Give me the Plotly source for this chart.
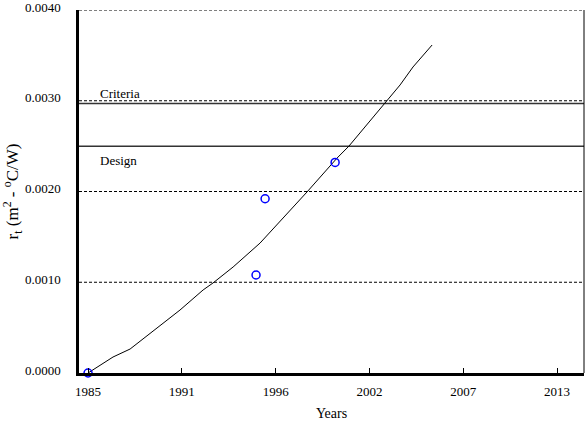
import plotly.graph_objects as go

# Fitted curve
curve_years = [1985.0, 1986.49, 1987.51, 1989.30, 1990.49, 1991.87, 1992.46, 1993.66,
               1995.27, 1998.07, 1999.87, 2000.58, 2002.67, 2003.63, 2004.40, 2005.54]
curve_rt = [0.0, 0.000176, 0.000264, 0.000518, 0.000694, 0.000915, 0.000992, 0.001168,
            0.001432, 0.001994, 0.002369, 0.002501, 0.002956, 0.003174, 0.003372, 0.003614]

# Measured points
meas_years = [1985.0, 1995.03, 1995.57, 1999.75]
meas_rt = [0.0, 0.00108, 0.00192, 0.00232]

# Reference levels
grid_levels = [0.001, 0.002, 0.003, 0.004]
design_level = 0.0025
criteria_level = 0.00297

# Axis ticks
x_tickvals = [1985.0, 1990.6, 1996.2, 2001.8, 2007.4, 2013.0]
x_ticktext = ["1985", "1991", "1996", "2002", "2007", "2013"]
y_tickvals = [0.0, 0.001, 0.002, 0.003, 0.004]
y_ticktext = ["0.0000", "0.0010", "0.0020", "0.0030", "0.0040"]

x_range = [1984.46, 2014.61]
y_range = [0.0, 0.004]

FONT = "Liberation Serif, Times New Roman, serif"

fig = go.Figure()

fig.add_trace(go.Scatter(x=curve_years, y=curve_rt, mode="lines",
                         line=dict(color="black", width=1), showlegend=False))
fig.add_trace(go.Scatter(x=meas_years, y=meas_rt, mode="markers",
                         marker=dict(symbol="circle-open", size=8, color="#0000ff",
                                     line=dict(width=1.5, color="#0000ff")),
                         showlegend=False, cliponaxis=False))

shapes = []
for lv in grid_levels:
    shapes.append(dict(type="line", xref="paper", x0=0, x1=1, yref="y", y0=lv, y1=lv,
                       line=dict(color="black", width=1, dash="3px,2px"), layer="below"))
for lv in [design_level, criteria_level]:
    shapes.append(dict(type="line", xref="paper", x0=0, x1=1, yref="y", y0=lv, y1=lv,
                       line=dict(color="#333333", width=1.5), layer="below"))
shapes.append(dict(type="line", xref="paper", x0=1, x1=1, yref="paper", y0=0, y1=1,
                   line=dict(color="black", width=1)))

fig.update_layout(
    width=586, height=427,
    margin=dict(l=79, r=2, t=10, b=54, autoexpand=False),
    paper_bgcolor="white", plot_bgcolor="white",
    font=dict(family=FONT, size=13, color="black"),
    shapes=shapes,
    annotations=[
        dict(x=1985.6, y=criteria_level, xref="x", yref="y", text="Criteria",
             showarrow=False, xanchor="left", yanchor="bottom", yshift=0,
             font=dict(family=FONT, size=13, color="black")),
        dict(x=1985.6, y=design_level, xref="x", yref="y", text="Design",
             showarrow=False, xanchor="left", yanchor="top", yshift=-5,
             font=dict(family=FONT, size=13, color="black")),
    ],
    xaxis=dict(range=x_range, tickmode="array", tickvals=x_tickvals, ticktext=x_ticktext,
               showgrid=False, zeroline=False, showline=True, linecolor="black", linewidth=2.5,
               ticks="inside", ticklen=5, tickwidth=1, tickcolor="black", ticklabelstandoff=5,
               automargin=False,
               title=dict(text="Years", font=dict(family=FONT, size=14), standoff=10)),
    yaxis=dict(range=y_range, tickmode="array", tickvals=y_tickvals, ticktext=y_ticktext,
               showgrid=False, zeroline=False, showline=True, linecolor="black", linewidth=2.5,
               ticks="", ticklabelstandoff=13, ticklabelshift=-3, ticklabeloverflow="allow",
               automargin=False,
               title=dict(text="r<sub>t</sub> (m<sup>2</sup> - <sup>o</sup>C/W)",
                          font=dict(family=FONT, size=17), standoff=2)),
)

fig.write_html("out.html", config={"displayModeBar": False},
               post_script="document.body.style.margin='0px';")
